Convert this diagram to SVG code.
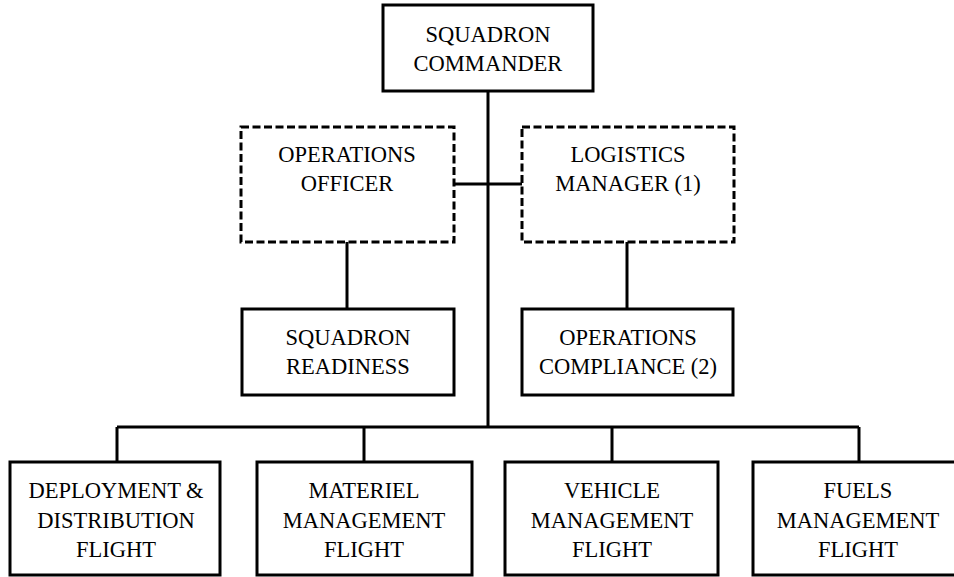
<svg xmlns="http://www.w3.org/2000/svg" width="954" height="577" viewBox="0 0 954 577">
<style>
.box{fill:#fff;stroke:#000;stroke-width:3}
.dash{fill:#fff;stroke:#000;stroke-width:3;stroke-dasharray:8 3.5}
.ln{fill:none;stroke:#000;stroke-width:3}
text{font-family:"Liberation Serif","Times New Roman",serif;font-size:22.5px;fill:#000;text-anchor:middle}
</style>
<rect width="954" height="577" fill="#fff"/>
<g id="connectors">
<path class="ln" d="M488 91V427"/>
<path class="ln" d="M454 184H522"/>
<path class="ln" d="M347 242V309"/>
<path class="ln" d="M627 242V309"/>
<path class="ln" d="M117 427H859"/>
<path class="ln" d="M117 427V462M364 427V462M612 427V462M859 427V462"/>
</g>
<g id="squadron-commander">
<rect class="box" x="383" y="5" width="210" height="86"/>
<text x="488" y="42">SQUADRON</text>
<text x="488" y="71">COMMANDER</text>
</g>
<g id="operations-officer">
<rect class="dash" x="241" y="127" width="213" height="115"/>
<text x="347" y="162">OPERATIONS</text>
<text x="347" y="191">OFFICER</text>
</g>
<g id="logistics-manager">
<rect class="dash" x="522" y="127" width="212" height="115"/>
<text x="628" y="162">LOGISTICS</text>
<text x="628" y="191">MANAGER (1)</text>
</g>
<g id="squadron-readiness">
<rect class="box" x="242" y="309" width="212" height="86"/>
<text x="348" y="345">SQUADRON</text>
<text x="348" y="374">READINESS</text>
</g>
<g id="operations-compliance">
<rect class="box" x="522" y="309" width="211" height="86"/>
<text x="628" y="345">OPERATIONS</text>
<text x="628" y="374">COMPLIANCE (2)</text>
</g>
<g id="deployment-distribution">
<rect class="box" x="10" y="462" width="210" height="113"/>
<text x="116" y="498">DEPLOYMENT &amp;</text>
<text x="116" y="528">DISTRIBUTION</text>
<text x="116" y="557">FLIGHT</text>
</g>
<g id="materiel-management">
<rect class="box" x="257" y="462" width="215" height="113"/>
<text x="364" y="498">MATERIEL</text>
<text x="364" y="528">MANAGEMENT</text>
<text x="364" y="557">FLIGHT</text>
</g>
<g id="vehicle-management">
<rect class="box" x="505" y="462" width="213" height="113"/>
<text x="612" y="498">VEHICLE</text>
<text x="612" y="528">MANAGEMENT</text>
<text x="612" y="557">FLIGHT</text>
</g>
<g id="fuels-management">
<rect class="box" x="753" y="462" width="212" height="113"/>
<text x="858" y="498">FUELS</text>
<text x="858" y="528">MANAGEMENT</text>
<text x="858" y="557">FLIGHT</text>
</g>
</svg>
